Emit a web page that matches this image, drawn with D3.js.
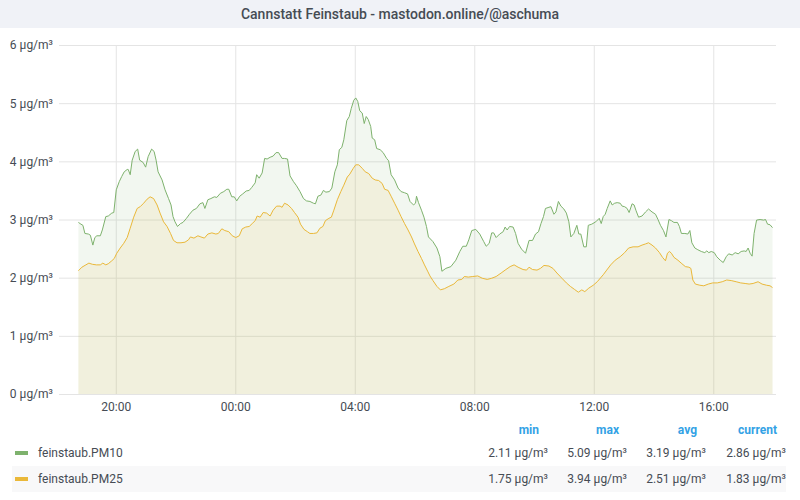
<!DOCTYPE html>
<html><head><meta charset="utf-8">
<script src="https://cdn.jsdelivr.net/npm/d3@7"></script>
<style>html,body{margin:0;padding:0;background:#fff;} svg{display:block;font-family:Roboto,"Noto Sans",sans-serif;}</style>
</head><body><svg id="chart" width="800" height="500"></svg>
<script>
const title = "Cannstatt Feinstaub - mastodon.online/@aschuma";
const seriesNames = ["feinstaub.PM10", "feinstaub.PM25"];
const seriesColors = ["#7eb26d", "#eab839"];
const unit = "µg/m³";
const yTickValues = [0, 1, 2, 3, 4, 5, 6];
const statHeaders = ["min", "max", "avg", "current"];
const pm10Stats = ["2.11 µg/m³", "5.09 µg/m³", "3.19 µg/m³", "2.86 µg/m³"];
const pm25Stats = ["1.75 µg/m³", "3.94 µg/m³", "2.51 µg/m³", "1.83 µg/m³"];
// time window: minutes after 18:00 of day one
const windowMinutes = [6, 1446];

const pm10Minutes = [45,50,54,58,65,69,74,78,82,89,93,100,105,112,116,121,127,132,137,143,145,149,153,159,164,168,175,180,185,192,197,201,205,213,219,226,231,235,239,244,250,255,262,268,275,282,289,295,299,305,311,318,323,330,337,343,347,353,358,363,369,375,382,388,393,400,403,408,414,419,424,430,436,442,447,454,459,465,470,477,483,490,497,503,510,517,521,526,532,537,542,549,554,560,565,569,574,578,584,589,593,598,602,606,610,615,619,623,627,632,635,640,644,651,657,664,668,673,680,687,693,700,706,711,718,722,724,728,734,739,744,748,757,765,771,775,783,793,803,811,817,824,829,835,843,851,859,864,870,875,879,884,891,898,902,906,911,918,923,928,935,943,950,957,963,969,974,979,983,990,994,1000,1004,1009,1014,1020,1025,1030,1034,1040,1046,1050,1054,1060,1065,1069,1076,1084,1091,1095,1099,1103,1107,1113,1117,1122,1127,1133,1137,1142,1147,1151,1157,1161,1165,1170,1177,1184,1190,1197,1204,1209,1214,1220,1225,1231,1236,1241,1248,1252,1256,1263,1269,1273,1277,1283,1289,1296,1303,1307,1311,1316,1322,1327,1334,1340,1346,1351,1358,1364,1370,1376,1382,1386,1390,1394,1398,1402,1407,1414,1421,1425,1429,1434,1439];
const pm10Values = [2.95,2.92,2.90,2.76,2.75,2.73,2.56,2.69,2.72,2.72,2.82,3.05,3.06,3.11,3.12,3.51,3.65,3.74,3.82,3.86,3.86,3.77,4.02,4.17,4.21,4.02,3.98,3.90,4.08,4.21,4.17,4.02,3.82,3.68,3.51,3.36,3.25,3.05,2.96,2.88,2.93,2.95,3.02,3.09,3.16,3.19,3.27,3.29,3.19,3.34,3.36,3.39,3.38,3.45,3.48,3.52,3.52,3.39,3.39,3.32,3.40,3.44,3.49,3.50,3.55,3.63,3.77,3.71,3.80,4.05,4.04,4.07,4.09,4.15,4.15,4.05,4.05,4.04,3.75,3.65,3.58,3.48,3.36,3.32,3.31,3.28,3.27,3.40,3.42,3.50,3.47,3.48,3.54,3.82,3.94,4.20,4.24,4.37,4.70,4.77,4.91,5.05,5.09,5.03,4.87,4.83,4.65,4.77,4.72,4.60,4.40,4.37,4.22,4.20,4.15,4.05,4.01,3.77,3.68,3.54,3.48,3.46,3.44,3.31,3.25,3.28,3.40,3.29,3.16,3.04,2.88,2.70,2.62,2.51,2.36,2.11,2.16,2.19,2.30,2.45,2.54,2.54,2.65,2.81,2.83,2.75,2.62,2.54,2.59,2.77,2.77,2.69,2.75,2.79,2.87,2.82,2.88,2.87,2.76,2.59,2.49,2.42,2.64,2.64,2.75,2.79,2.93,3.05,3.19,3.21,3.22,3.09,3.13,3.31,3.23,3.18,3.11,2.96,2.70,2.76,2.90,2.75,2.75,2.53,2.53,2.90,2.92,2.96,3.02,2.93,3.05,3.09,3.19,3.32,3.25,3.28,3.29,3.28,3.23,3.22,3.19,3.12,3.27,3.25,3.15,3.04,3.06,3.13,3.18,3.13,3.09,3.00,2.90,2.81,2.70,3.00,2.98,2.95,2.95,2.88,2.76,2.76,2.75,2.81,2.60,2.51,2.48,2.45,2.43,2.46,2.43,2.45,2.43,2.36,2.30,2.26,2.36,2.41,2.39,2.43,2.41,2.45,2.46,2.45,2.51,2.42,2.37,2.76,2.99,3.00,2.99,3.00,2.92,2.91,2.86];

const pm25Minutes = [45,52,60,66,73,81,89,94,100,105,112,117,122,129,136,143,149,156,163,169,176,183,189,196,203,209,216,223,230,236,243,251,259,266,270,277,285,291,298,305,313,321,326,333,339,347,354,361,368,374,381,388,394,400,404,410,416,423,430,436,443,450,454,459,466,473,479,486,491,498,505,510,517,524,530,536,541,548,553,558,565,572,578,585,590,597,602,608,615,621,628,635,641,648,655,660,667,673,680,687,693,700,707,714,720,727,734,740,747,751,757,765,772,780,789,799,807,815,820,828,837,847,856,866,875,884,894,902,912,920,928,938,945,950,957,966,973,980,990,998,1006,1016,1025,1033,1041,1049,1056,1062,1070,1079,1087,1095,1099,1106,1114,1123,1133,1142,1150,1159,1169,1177,1184,1190,1197,1204,1212,1218,1224,1228,1232,1236,1241,1249,1257,1264,1271,1275,1279,1284,1293,1301,1310,1319,1328,1338,1347,1356,1366,1375,1384,1392,1400,1410,1418,1427,1434,1439];
const pm25Values = [2.12,2.18,2.22,2.25,2.23,2.22,2.22,2.25,2.22,2.24,2.29,2.33,2.42,2.51,2.59,2.69,2.85,3.04,3.19,3.22,3.28,3.35,3.39,3.36,3.25,3.11,2.96,2.88,2.76,2.64,2.60,2.60,2.61,2.65,2.70,2.68,2.72,2.70,2.68,2.75,2.77,2.75,2.76,2.84,2.81,2.79,2.72,2.69,2.72,2.84,2.87,2.88,2.93,2.98,3.06,3.04,3.12,3.11,3.06,3.16,3.23,3.23,3.21,3.28,3.25,3.19,3.12,3.04,2.92,2.83,2.79,2.76,2.76,2.77,2.85,2.88,2.98,3.02,3.04,3.16,3.34,3.48,3.59,3.73,3.78,3.88,3.94,3.94,3.88,3.82,3.79,3.71,3.68,3.67,3.62,3.52,3.50,3.40,3.28,3.16,3.05,2.93,2.82,2.70,2.58,2.45,2.33,2.22,2.10,2.03,1.95,1.85,1.79,1.81,1.85,1.89,1.96,1.97,2.02,2.01,2.02,2.03,1.99,1.97,1.99,2.02,2.08,2.13,2.19,2.22,2.18,2.14,2.13,2.18,2.14,2.13,2.16,2.21,2.20,2.16,2.08,1.99,1.91,1.85,1.80,1.75,1.79,1.76,1.82,1.87,1.93,2.01,2.05,2.13,2.22,2.30,2.36,2.43,2.51,2.53,2.53,2.56,2.58,2.60,2.56,2.51,2.43,2.35,2.29,2.42,2.45,2.42,2.35,2.30,2.24,2.19,2.18,2.16,1.96,1.89,1.87,1.86,1.89,1.91,1.91,1.93,1.96,1.95,1.93,1.91,1.90,1.89,1.90,1.93,1.89,1.87,1.86,1.83];

const base = new Date(2021, 0, 1, 18, 0, 0);
const toDate = m => new Date(base.getTime() + m * 60000);

const series = [
  { name: seriesNames[0], color: seriesColors[0], stats: pm10Stats,
    points: pm10Minutes.map((m, i) => ({ t: toDate(m), v: pm10Values[i] })) },
  { name: seriesNames[1], color: seriesColors[1], stats: pm25Stats,
    points: pm25Minutes.map((m, i) => ({ t: toDate(m), v: pm25Values[i] })) }
];

const svg = d3.select("#chart");
const textColor = "#464c54";
const plot = { left: 59, right: 776, top: 45, bottom: 394 };

// title bar
svg.append("rect").attr("x", 0).attr("y", 0).attr("width", 800).attr("height", 28).attr("fill", "#f0f2f7");
svg.append("text").attr("x", 400).attr("y", 19).attr("text-anchor", "middle")
  .attr("font-size", 14).attr("font-weight", 500).attr("fill", textColor).text(title);

const x = d3.scaleTime().domain(windowMinutes.map(toDate)).range([plot.left, plot.right]);
const y = d3.scaleLinear().domain([0, 6]).range([plot.bottom, plot.top]);

// y axis + horizontal grid
const yAxis = svg.append("g").attr("transform", `translate(${plot.left},0)`)
  .call(d3.axisLeft(y).tickValues(yTickValues).tickSize(-(plot.right - plot.left)).tickPadding(6)
    .tickFormat(d => `${d} ${unit}`));
yAxis.select(".domain").remove();
yAxis.selectAll("line").attr("stroke", "#e4e4e4");
yAxis.selectAll("text").attr("fill", textColor).attr("font-size", 12).attr("font-family", "Roboto, sans-serif");

// x axis + vertical grid
const xAxis = svg.append("g").attr("transform", `translate(0,${plot.bottom})`)
  .call(d3.axisBottom(x).ticks(d3.timeHour.every(4)).tickSize(-(plot.bottom - plot.top)).tickPadding(8)
    .tickFormat(d3.timeFormat("%H:%M")));
xAxis.select(".domain").remove();
xAxis.selectAll("line").attr("stroke", "#e4e4e4");
xAxis.selectAll("text").attr("fill", textColor).attr("font-size", 12).attr("font-family", "Roboto, sans-serif");

const area = d3.area().x(d => x(d.t)).y0(y(0)).y1(d => y(d.v));
const line = d3.line().x(d => x(d.t)).y(d => y(d.v));

series.forEach(s => {
  svg.append("path").datum(s.points).attr("d", area).attr("fill", s.color).attr("fill-opacity", 0.1);
});
series.forEach(s => {
  svg.append("path").datum(s.points).attr("d", line).attr("fill", "none")
    .attr("stroke", s.color).attr("stroke-width", 1);
});

// legend
const statRight = [548, 627, 706, 786];
const headerRight = [539, 619, 697, 777];
const lg = svg.append("g").attr("font-size", 12);
statHeaders.forEach((h, i) => {
  lg.append("text").attr("x", headerRight[i]).attr("y", 434).attr("text-anchor", "end")
    .attr("font-weight", 700).attr("fill", "#33a2e5").text(h);
});
series.forEach((s, r) => {
  const cy = 453 + r * 26;
  if (r === 1) {
    lg.append("rect").attr("x", 12).attr("y", cy - 13).attr("width", 774).attr("height", 26).attr("fill", "#f8f8f9");
  }
  lg.append("rect").attr("x", 15).attr("y", cy - 2).attr("width", 13).attr("height", 4).attr("fill", s.color);
  lg.append("text").attr("x", 38).attr("y", cy + 4).attr("fill", textColor).text(s.name);
  s.stats.forEach((v, i) => {
    lg.append("text").attr("x", statRight[i]).attr("y", cy + 4).attr("text-anchor", "end")
      .attr("fill", textColor).text(v);
  });
});
</script></body></html>
